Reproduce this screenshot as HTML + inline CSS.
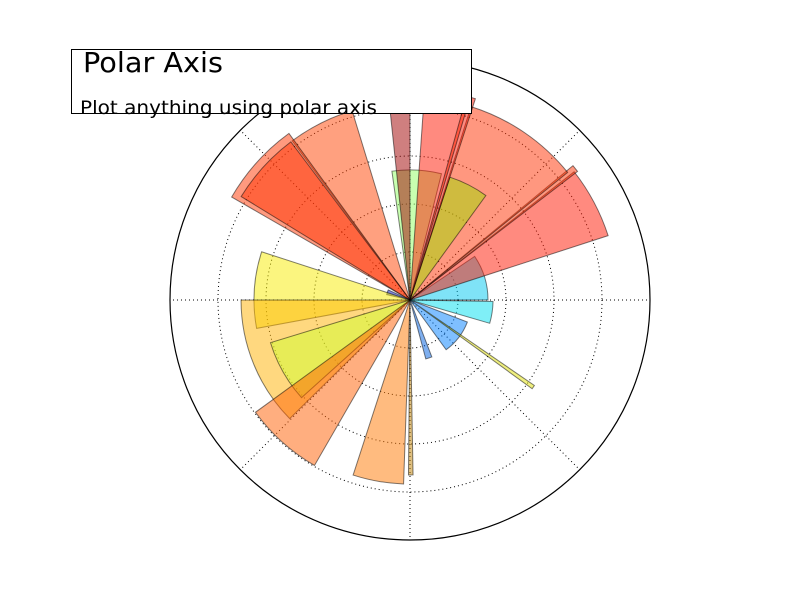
<!DOCTYPE html>
<html><head><meta charset="utf-8">
<style>
body{margin:0;background:#fff;width:800px;height:600px;overflow:hidden;font-family:"DejaVu Sans","Liberation Sans",sans-serif;}
</style></head>
<body>
<svg id="chart" width="800" height="600" xmlns="http://www.w3.org/2000/svg">
<rect width="800" height="600" fill="#fff"/>
<g id="grid"></g>
<g id="bars"></g>
<circle cx="410" cy="300" r="240" fill="none" stroke="#000" stroke-width="1.2"/>
<g>
<rect x="71.5" y="49.5" width="400" height="64" fill="#fff" stroke="#000" stroke-width="1"/>
<text x="83" y="72" font-size="28" textLength="140" lengthAdjust="spacingAndGlyphs" font-family="DejaVu Sans, sans-serif">Polar Axis</text>
<text x="80" y="114" font-size="19" textLength="297" lengthAdjust="spacingAndGlyphs" font-family="DejaVu Sans, sans-serif">Plot anything using polar axis</text>
</g>
</svg>
<script>
// bar data (degrees, value units 0..10)
const starts = [0, 18, 37.5, 39, 76, 54, 72, 73.5, 90, 107, 126, 127, 155, 162, 180, 197, 216, 252, 269.5, 285, 306, 324, 343.7];
const widths = [34, 20, 2, 33.5, 22, 18, 14, 1, 6, 19.5, 24, 21.5, 12, 28.5, 44.6, 25, 24, 16, 1.5, 6, 33, 1.5, 15.3];
const radii  = [3.25, 8.68, 8.8, 8.45, 5.42, 5.38, 8.82, 8.6, 8.33, 8.25, 8.58, 8.25, 1.0, 6.5, 7.04, 6.08, 7.96, 7.67, 7.29, 2.54, 2.56, 6.29, 3.46];
const colors = ["#00c8f0","#ff1500","#ff3000","#ff2f00","#91ff61","#a0e000","#ff1500","#ff2000","#a00000","#ff4100","#ff3500","#ff3000","#0010c0","#f7eb00","#ffb100","#d0ff30","#ff5d00","#ff7700","#c08000","#0060e0","#0080ff","#e0e000","#00e0f0"];
const gridRings = [2, 4, 6, 8];
const gridAngles = [0, 45, 90, 135, 180, 225, 270, 315];

const NS = "http://www.w3.org/2000/svg";
const cx = 410, cy = 300, R = 240, rmax = 10;
function rs(v){ return v / rmax * R; }
function pt(deg, r){ const a = deg * Math.PI / 180; return [cx + r * Math.cos(a), cy - r * Math.sin(a)]; }

const grid = document.getElementById('grid');
gridRings.forEach(v => {
  const c = document.createElementNS(NS, 'circle');
  
  
  c.setAttribute('cx', cx); c.setAttribute('cy', cy); c.setAttribute('r', rs(v));
  c.setAttribute('fill', 'none'); c.setAttribute('stroke', '#000'); c.setAttribute('stroke-width', '1');
  c.setAttribute('stroke-dasharray', '1,3');
  grid.appendChild(c);
});
gridAngles.forEach(d => {
  const p = pt(d, R);
  const l = document.createElementNS(NS, 'line');
  
  
  l.setAttribute('x1', cx); l.setAttribute('y1', cy); l.setAttribute('x2', p[0]); l.setAttribute('y2', p[1]);
  l.setAttribute('stroke', '#000'); l.setAttribute('stroke-width', '1'); l.setAttribute('stroke-dasharray', '1,3');
  grid.appendChild(l);
});

const bars = document.getElementById('bars');
starts.forEach((s, i) => {
  const r = rs(radii[i]);
  const e = s + widths[i];
  const p1 = pt(s, r), p2 = pt(e, r);
  const large = widths[i] > 180 ? 1 : 0;
  const d = `M${cx},${cy} L${p1[0]},${p1[1]} A${r},${r} 0 ${large} 0 ${p2[0]},${p2[1]} Z`;
  const path = document.createElementNS(NS, 'path');
  
  
  path.setAttribute('d', d);
  path.setAttribute('fill', colors[i]);
  path.setAttribute('fill-opacity', '0.5');
  path.setAttribute('stroke', '#000');
  path.setAttribute('stroke-opacity', '0.5');
  path.setAttribute('stroke-width', '1');
  bars.appendChild(path);
});
</script>
</body></html>
